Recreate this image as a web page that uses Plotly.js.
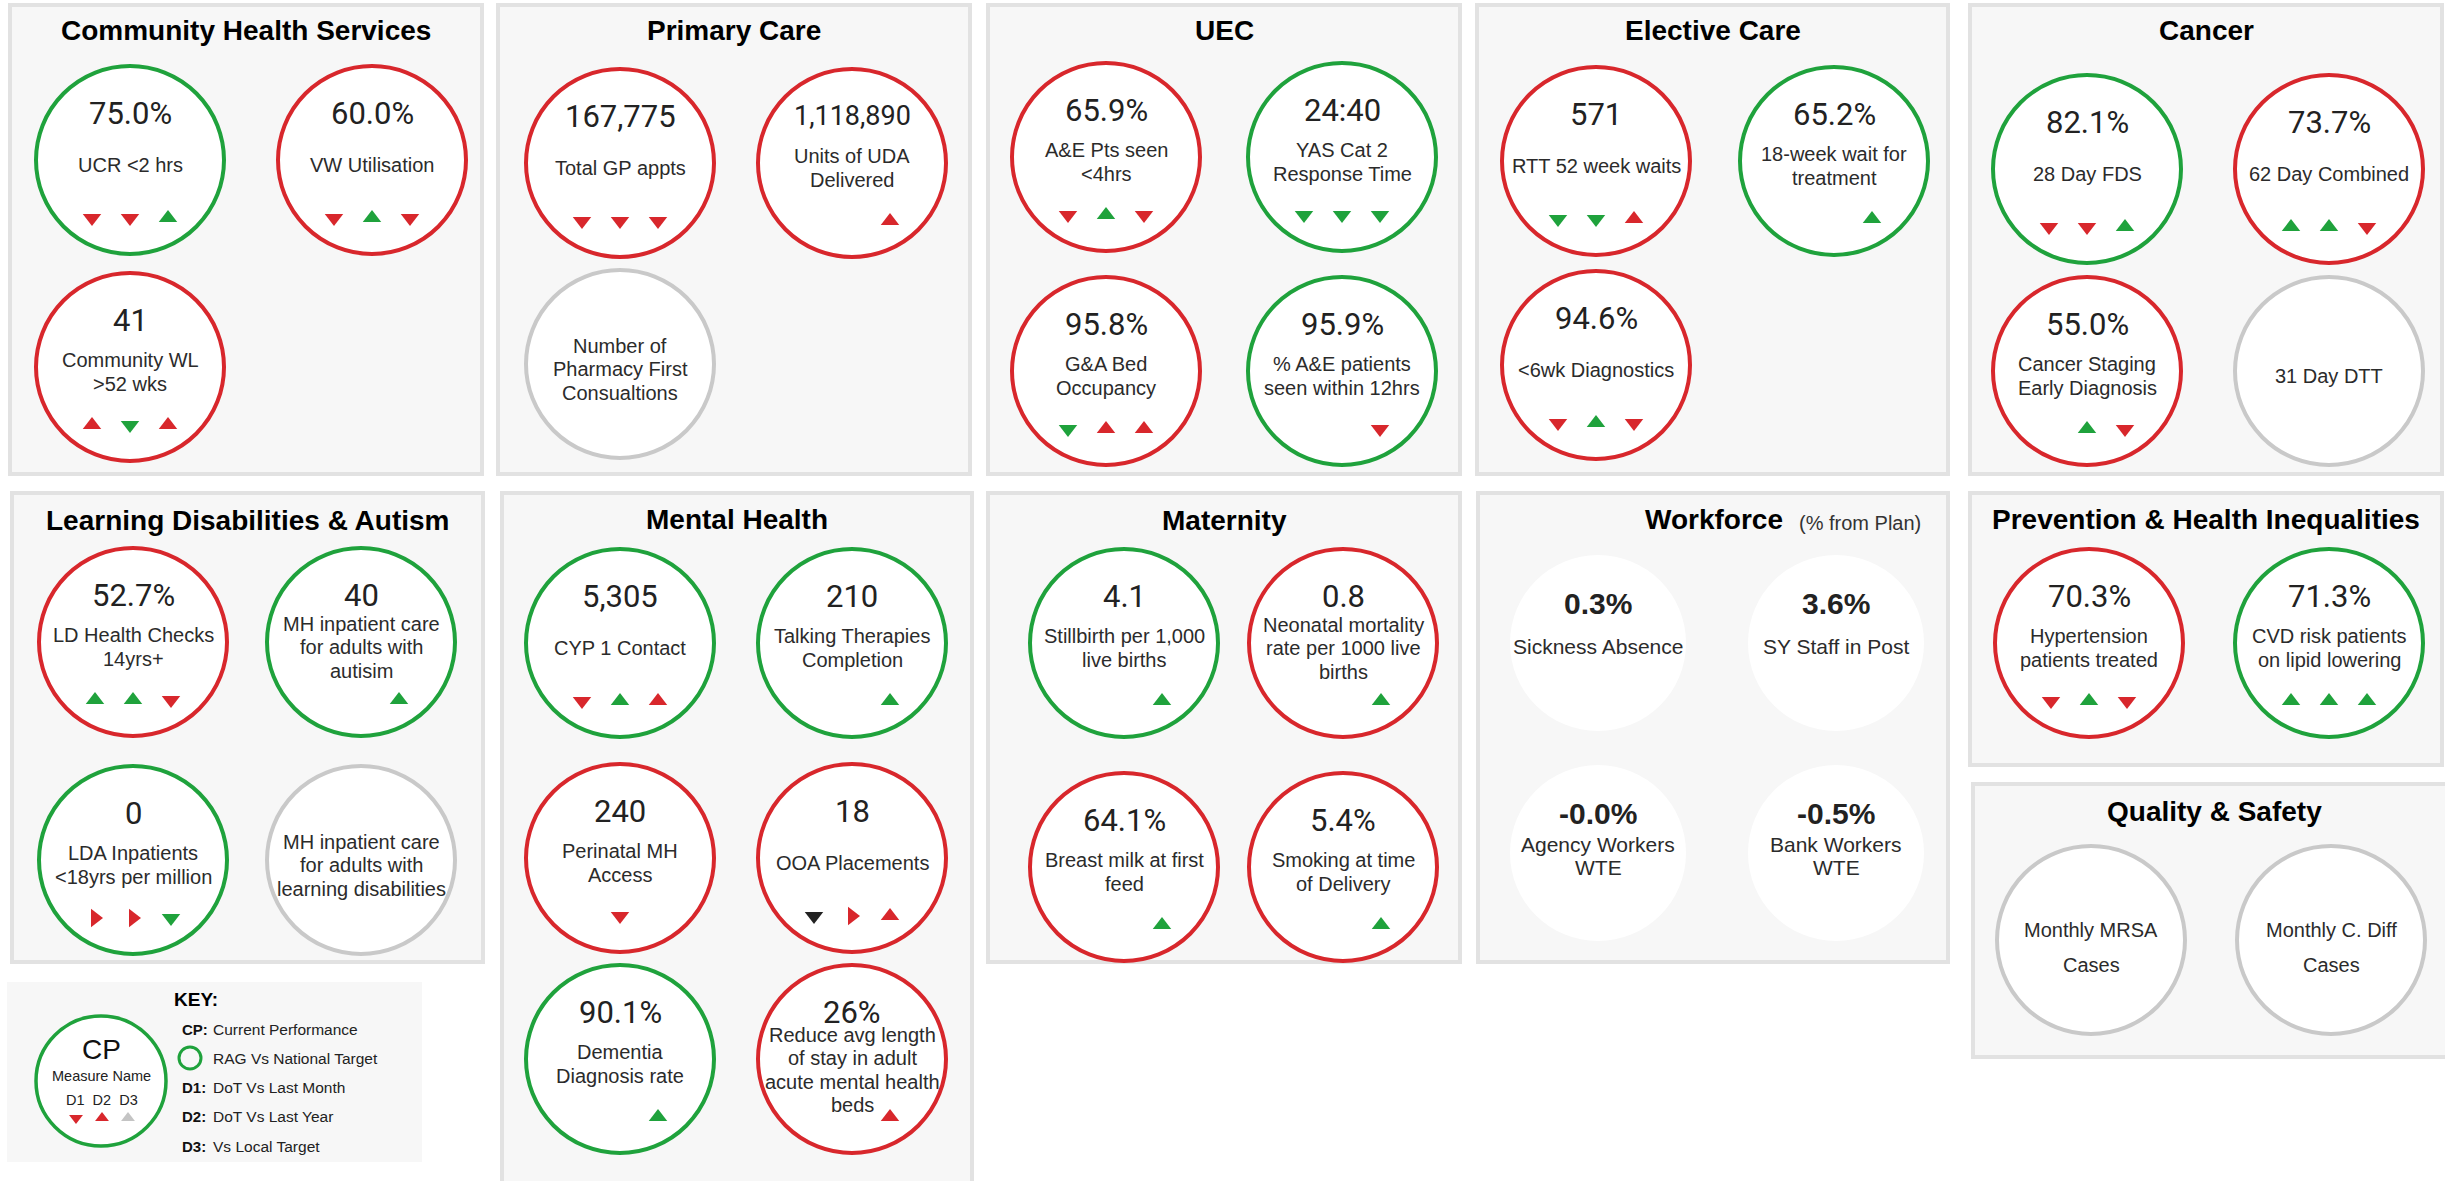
<!DOCTYPE html>
<html><head><meta charset="utf-8">
<script src="https://cdn.plot.ly/plotly-3.0.1.min.js"></script>
<style>html,body{margin:0;padding:0;background:#fff;overflow:hidden}#chart{width:2445px;height:1181px}</style>
</head><body><div id="chart"></div>
<script>
// ================= DATA =================
const panelTitles = ["Community Health Services","Primary Care","UEC","Elective Care","Cancer",
  "Learning Disabilities & Autism","Mental Health","Maternity","Workforce",
  "Prevention & Health Inequalities","Quality & Safety"];
const panelSubtitles = ["","","","","","","","","(% from Plan)","",""];

const measurePanel = [0,0,0, 1,1,1, 2,2,2,2, 3,3,3, 4,4,4,4, 5,5,5,5, 6,6,6,6,6,6, 7,7,7,7, 8,8,8,8, 9,9, 10,10];
const measureNames = [
  "UCR <2 hrs","VW Utilisation","Community WL\n>52 wks",
  "Total GP appts","Units of UDA\nDelivered","Number of\nPharmacy First\nConsualtions",
  "A&E Pts seen\n<4hrs","YAS Cat 2\nResponse Time","G&A Bed\nOccupancy","% A&E patients\nseen within 12hrs",
  "RTT 52 week waits","18-week wait for\ntreatment","<6wk Diagnostics",
  "28 Day FDS","62 Day Combined","Cancer Staging\nEarly Diagnosis","31 Day DTT",
  "LD Health Checks\n14yrs+","MH inpatient care\nfor adults with\nautisim","LDA Inpatients\n<18yrs per million","MH inpatient care\nfor adults with\nlearning disabilities",
  "CYP 1 Contact","Talking Therapies\nCompletion","Perinatal MH\nAccess","OOA Placements","Dementia\nDiagnosis rate","Reduce avg length\nof stay in adult\nacute mental health\nbeds",
  "Stillbirth per 1,000\nlive births","Neonatal mortality\nrate per 1000 live\nbirths","Breast milk at first\nfeed","Smoking at time\nof Delivery",
  "Sickness Absence","SY Staff in Post","Agency Workers\nWTE","Bank Workers\nWTE",
  "Hypertension\npatients treated","CVD risk patients\non lipid lowering",
  "Monthly MRSA\nCases","Monthly C. Diff\nCases"
];
const measureValues = [
  "75.0%","60.0%","41",
  "167,775","1,118,890","",
  "65.9%","24:40","95.8%","95.9%",
  "571","65.2%","94.6%",
  "82.1%","73.7%","55.0%","",
  "52.7%","40","0","",
  "5,305","210","240","18","90.1%","26%",
  "4.1","0.8","64.1%","5.4%",
  "0.3%","3.6%","-0.0%","-0.5%",
  "70.3%","71.3%",
  "",""
];
// RAG vs national target: G green, R red, N no rating (grey), W workforce (none)
const measureRAG = [
  "G","R","R", "R","R","N", "R","G","R","G", "R","G","R", "G","R","R","N",
  "R","G","G","N", "G","G","R","R","G","R", "G","R","R","R", "W","W","W","W", "R","G", "N","N"
];
// Direction of travel arrows: D1 vs last month, D2 vs last year, D3 vs local target
const dotVsLastMonth = [
  "down-red","down-red","up-red", "down-red","","", "down-red","down-green","down-green","",
  "down-green","","down-red", "down-red","up-green","","",
  "up-green","","right-red","", "down-red","","","down-black","","",
  "","","","", "","","","", "down-red","up-green", "",""
];
const dotVsLastYear = [
  "down-red","up-green","down-green", "down-red","","", "up-green","down-green","up-red","",
  "down-green","","up-green", "down-red","up-green","up-green","",
  "up-green","","right-red","", "up-green","","down-red","right-red","","",
  "","","","", "","","","", "up-green","up-green", "",""
];
const vsLocalTarget = [
  "up-green","down-red","up-red", "down-red","up-red","", "down-red","down-green","up-red","down-red",
  "up-red","up-green","down-red", "up-green","down-red","down-red","",
  "down-red","up-green","down-green","", "up-red","up-green","","up-red","up-green","up-red",
  "up-green","up-green","up-green","up-green", "","","","", "down-red","up-green", "",""
];
// Key
const keyCodes = ["CP:","","D1:","D2:","D3:"];
const keyTexts = ["Current Performance","RAG Vs National Target","DoT Vs Last Month","DoT Vs Last Year","Vs Local Target"];
const keyArrows = ["down-red","up-red","up-grey"];

// ================= LAYOUT / STYLE =================
const COL = {G:"#1FA23C", R:"#D8272C", N:"#C9C9C9"};
const ARROWCOL = {red:"#D8272C", green:"#1FA23C", black:"#222222", grey:"#C4C4C4"};
const SYM = {up:"triangle-up", down:"triangle-down", right:"triangle-right"};
const SANS = "Liberation Sans, Arial, sans-serif";
const NUMF = "Roboto, sans-serif";

const STYLES = {
  circle:   {r:94, lw:4, vDy:-47, vSize:31, vFont:NUMF, vWeight:400, lDy:5, gap:23.5, lSize:20, aDy:58},
  quality:  {r:94, lw:4, vDy:-47, vSize:31, vFont:NUMF, vWeight:400, lDy:7, gap:35, lSize:20, aDy:58},
  workforce:{r:88, lw:0, vDy:-40, vSize:30, vFont:SANS, vWeight:700, lDy:3, gap:23, lSize:21, aDy:58}
};
const PANELS = [
  {box:[10,5,482,474],    cols:[120,362], rows:[155,362], st:"circle", tDy:25},
  {box:[498,5,970,474],   cols:[122,354], rows:[158,359], st:"circle", tDy:25},
  {box:[988,5,1460,474],  cols:[118,354], rows:[152,366], st:"circle", tDy:25},
  {box:[1477,5,1948,474], cols:[119,357], rows:[156,360], st:"circle", tDy:25},
  {box:[1970,5,2442,474], cols:[117,359], rows:[164,366], st:"circle", tDy:25},
  {box:[12,493,483,962],  cols:[121,349], rows:[149,367], st:"circle", tDy:27},
  {box:[502,493,972,1200],cols:[118,350], rows:[150,365,566], st:"circle", tDy:26},
  {box:[988,493,1460,962],cols:[136,355], rows:[150,374], st:"circle", tDy:27},
  {box:[1478,493,1948,962],cols:[120,358], rows:[150,360], st:"workforce", tDy:26},
  {box:[1970,493,2442,765],cols:[119,359], rows:[150], st:"circle", tDy:26},
  {box:[1973,784,2455,1057],cols:[118,358], rows:[156], st:"quality", tDy:27}
];
const ARROW_DX = [-38, 0, 38];

function esc(s){ return s.replace(/&/g,"&amp;").replace(/</g,"&lt;").replace(/>/g,"&gt;"); }

const shapes = [], annotations = [];
const ax = [], ay = [], asym = [], acol = [], asize = [];

function addArrow(code, x, y, size){
  if(!code) return;
  const [dir, col] = code.split("-");
  ax.push(x); ay.push(y); asym.push(SYM[dir]); acol.push(ARROWCOL[col]); asize.push(size);
}

// panels
PANELS.forEach((p, i) => {
  const [x0,y0,x1,y1] = p.box;
  shapes.push({type:"rect", xref:"x", yref:"y", x0, y0, x1, y1, layer:"below",
    fillcolor:"#F7F7F7", line:{color:"#E2E2E2", width:4}});
  if (panelSubtitles[i]) {
    annotations.push({x:1643, y:y0+p.tDy, xref:"x", yref:"y", xanchor:"left", yanchor:"middle", showarrow:false,
      text:esc(panelTitles[i]), font:{family:SANS, size:28, color:"#000", weight:700}});
    annotations.push({x:1797, y:y0+p.tDy+4, xref:"x", yref:"y", xanchor:"left", yanchor:"middle", showarrow:false,
      text:esc(panelSubtitles[i]), font:{family:SANS, size:20, color:"#333"}});
  } else {
    annotations.push({x:(x0+x1)/2, y:y0+p.tDy, xref:"x", yref:"y", xanchor:"center", yanchor:"middle", showarrow:false,
      text:esc(panelTitles[i]), font:{family:SANS, size:28, color:"#000", weight:700}});
  }
});

// measures
const slotCount = {};
measureNames.forEach((name, m) => {
  const pi = measurePanel[m];
  const slot = slotCount[pi] || 0; slotCount[pi] = slot + 1;
  const p = PANELS[pi], st = STYLES[p.st];
  const cx = p.box[0] + p.cols[slot % 2];
  const cy = p.box[1] + p.rows[Math.floor(slot / 2)];
  const rag = measureRAG[m];
  shapes.push({type:"circle", xref:"x", yref:"y", layer:"below",
    x0:cx-st.r, x1:cx+st.r, y0:cy-st.r, y1:cy+st.r, fillcolor:"#FFFFFF",
    line:{color: rag==="W" ? "rgba(0,0,0,0)" : COL[rag], width: rag==="W" ? 0 : st.lw}});
  const val = measureValues[m];
  const lines = name.split("\n");
  const lDy = st.lDy + (lines.length > 3 ? 6 : 0);
  if (val) {
    const vs = val.length > 7 ? st.vSize - 4 : st.vSize;
    annotations.push({x:cx, y:cy+st.vDy, xref:"x", yref:"y", xanchor:"center", yanchor:"middle", showarrow:false,
      text:esc(val), font:{family:st.vFont, size:vs, color:"#222", weight:st.vWeight}});
  }
  lines.forEach((ln, k) => {
    annotations.push({x:cx, y:cy+lDy+(k-(lines.length-1)/2)*st.gap, xref:"x", yref:"y",
      xanchor:"center", yanchor:"middle", showarrow:false,
      text:esc(ln), font:{family:SANS, size:st.lSize, color:"#2B2B2B"}});
  });
  [dotVsLastMonth[m], dotVsLastYear[m], vsLocalTarget[m]].forEach((code, k) => {
    addArrow(code, cx + ARROW_DX[k], cy + st.aDy, 16);
  });
});

// key
shapes.push({type:"rect", xref:"x", yref:"y", x0:7, y0:982, x1:422, y1:1162, layer:"below",
  fillcolor:"#F7F7F7", line:{width:0}});
shapes.push({type:"circle", xref:"x", yref:"y", x0:36, x1:166, y0:1016, y1:1146, layer:"below",
  fillcolor:"#FFFFFF", line:{color:COL.G, width:3.5}});
shapes.push({type:"circle", xref:"x", yref:"y", x0:179, x1:201, y0:1047, y1:1069, layer:"below",
  fillcolor:"rgba(0,0,0,0)", line:{color:COL.G, width:3}});
annotations.push({x:172, y:999, xref:"x", yref:"y", xanchor:"left", yanchor:"middle", showarrow:false,
  text:"KEY:", font:{family:SANS, size:19, color:"#000", weight:700}});
annotations.push({x:101, y:1049, xref:"x", yref:"y", xanchor:"center", yanchor:"middle", showarrow:false,
  text:"CP", font:{family:SANS, size:28, color:"#111"}});
annotations.push({x:101, y:1076, xref:"x", yref:"y", xanchor:"center", yanchor:"middle", showarrow:false,
  text:"Measure Name", font:{family:SANS, size:14.5, color:"#222"}});
annotations.push({x:102, y:1100, xref:"x", yref:"y", xanchor:"center", yanchor:"middle", showarrow:false,
  text:"D1  D2  D3", font:{family:SANS, size:14.5, color:"#222"}});
keyArrows.forEach((c, k) => addArrow(c, [76,102,128][k], 1118, 12));
keyCodes.forEach((c, k) => {
  const y = 1029 + k*29.3;
  if (c) annotations.push({x:180, y, xref:"x", yref:"y", xanchor:"left", yanchor:"middle", showarrow:false,
    text:esc(c), font:{family:SANS, size:15, color:"#111", weight:700}});
  annotations.push({x:211, y, xref:"x", yref:"y", xanchor:"left", yanchor:"middle", showarrow:false,
    text:esc(keyTexts[k]), font:{family:SANS, size:15.5, color:"#222"}});
});

const traces = [{
  type:"scatter", mode:"markers", x:ax, y:ay, hoverinfo:"skip", showlegend:false,
  marker:{symbol:asym, color:acol, size:asize, opacity:1, line:{width:0}}
}];

const layout = {
  width:2445, height:1181, margin:{l:0,r:0,t:0,b:0},
  paper_bgcolor:"#FFFFFF", plot_bgcolor:"#FFFFFF",
  xaxis:{range:[0,2445], visible:false, fixedrange:true},
  yaxis:{range:[1181,0], visible:false, fixedrange:true},
  shapes, annotations, showlegend:false
};
Plotly.newPlot("chart", traces, layout, {staticPlot:true, displayModeBar:false});
</script></body></html>
